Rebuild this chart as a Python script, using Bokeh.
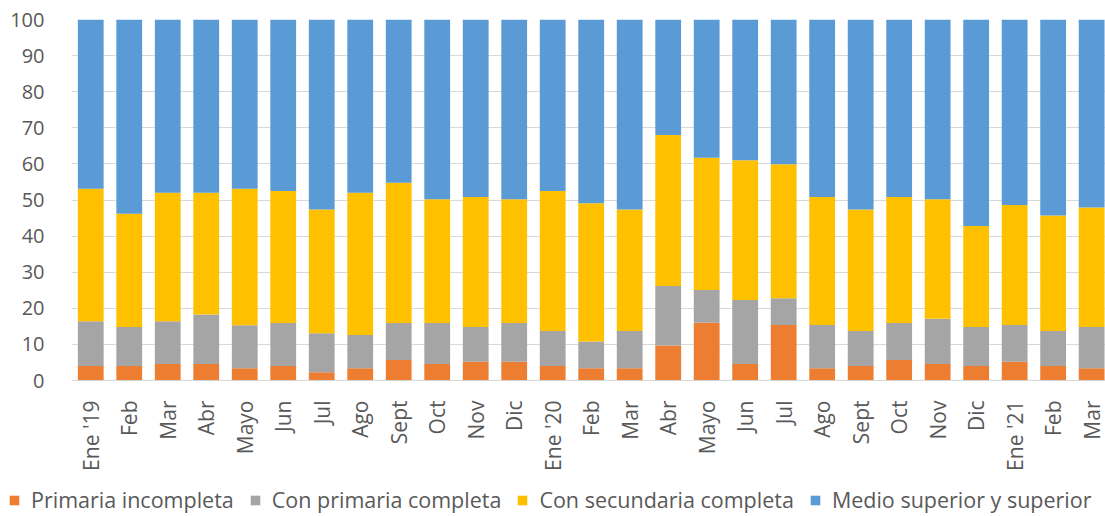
import math
from bokeh.plotting import figure
from bokeh.layouts import column, row
from bokeh.models import Range1d, FixedTicker, Legend, LegendItem, ColumnDataSource
from bokeh.embed import file_html
from bokeh.resources import INLINE

months = ["Ene '19", "Feb", "Mar", "Abr", "Mayo", "Jun", "Jul", "Ago", "Sept", "Oct", "Nov", "Dic",
          "Ene '20", "Feb", "Mar", "Abr", "Mayo", "Jun", "Jul", "Ago", "Sept", "Oct", "Nov", "Dic",
          "Ene '21", "Feb", "Mar"]

primaria_incompleta = [4.0, 4.0, 4.6, 4.6, 3.4, 4.0, 2.3, 3.4, 5.7, 4.6, 5.2, 5.2,
                       4.0, 3.4, 3.4, 9.7, 16.0, 4.6, 15.4, 3.4, 4.0, 5.7, 4.6, 4.0,
                       5.2, 4.0, 3.4]
primaria_completa = [12.4, 10.8, 11.8, 13.7, 11.9, 11.9, 10.8, 9.2, 10.2, 11.3, 9.6, 10.7,
                     9.7, 7.4, 10.3, 16.5, 9.1, 17.7, 7.4, 12.0, 9.7, 10.2, 12.5, 10.8,
                     10.2, 9.7, 11.4]
secundaria_completa = [36.7, 31.4, 35.6, 33.7, 37.8, 36.6, 34.3, 39.4, 38.9, 34.3, 36.0, 34.3,
                       38.8, 38.3, 33.7, 41.8, 36.6, 38.7, 37.1, 35.4, 33.7, 34.9, 33.1, 28.0,
                       33.2, 32.0, 33.1]
medio_superior = [46.9, 53.8, 48.0, 48.0, 46.9, 47.5, 52.6, 48.0, 45.2, 49.8, 49.2, 49.8,
                  47.5, 50.9, 52.6, 32.0, 38.3, 39.0, 40.1, 49.2, 52.6, 49.2, 49.8, 57.2,
                  51.4, 54.3, 52.1]

series_names = ["Primaria incompleta", "Con primaria completa",
                "Con secundaria completa", "Medio superior y superior"]
colors = ["#ED7D31", "#A5A5A5", "#FFC000", "#5B9BD5"]
keys = ["s0", "s1", "s2", "s3"]

src = ColumnDataSource(dict(x=list(range(len(months))),
                            s0=primaria_incompleta, s1=primaria_completa,
                            s2=secundaria_completa, s3=medio_superior))

FONT = "Open Sans"
TXT = "#595959"

p = figure(width=1105, height=480, output_backend="svg", toolbar_location=None,
           x_range=Range1d(-0.5, len(months) - 0.64), y_range=Range1d(0, 100),
           min_border_left=71, min_border_right=0, min_border_top=19, min_border_bottom=100)
p.outline_line_color = None

rs = p.vbar_stack(keys, x="x", width=0.67, source=src, color=colors, line_color=None)

p.xaxis.ticker = FixedTicker(ticks=list(range(len(months))))
p.xaxis.major_label_overrides = {i: m for i, m in enumerate(months)}
p.xaxis.major_label_orientation = math.pi / 2
p.xaxis.major_tick_line_color = None
p.xaxis.minor_tick_line_color = None
p.xaxis.axis_line_color = "#D9D9D9"
p.xaxis.major_label_standoff = 14
p.xaxis.major_label_text_font = FONT
p.xaxis.major_label_text_font_size = "21px"
p.xaxis.major_label_text_color = TXT

p.yaxis.ticker = FixedTicker(ticks=list(range(0, 101, 10)))
p.yaxis.axis_line_color = None
p.yaxis.major_tick_line_color = None
p.yaxis.minor_tick_line_color = None
p.yaxis.major_label_standoff = 21
p.yaxis.major_label_text_font = FONT
p.yaxis.major_label_text_font_size = "20px"
p.yaxis.major_label_text_color = TXT

p.xgrid.grid_line_color = None
p.ygrid.grid_line_color = "#D9D9D9"
p.ygrid.grid_line_width = 1

# legend strip below the chart: same stacked series, drawn out of view, only legend shows
leg = figure(width=1105, height=36, output_backend="svg", toolbar_location=None,
             x_axis_type=None, y_axis_type=None,
             x_range=Range1d(-0.5, len(months) - 0.5), y_range=Range1d(1000, 1001),
             min_border=0, min_border_left=0, min_border_right=0, min_border_top=0,
             min_border_bottom=0)
leg.outline_line_color = None
leg.grid.visible = False
leg_rs = leg.vbar_stack(keys, x="x", width=0.67, source=src, color=colors, line_color=None)

legend = Legend(items=[LegendItem(label=n, renderers=[r]) for n, r in zip(series_names, leg_rs)],
                orientation="horizontal", location=(8, 2),
                glyph_width=12, glyph_height=12, label_standoff=11, spacing=15,
                padding=0, margin=0, border_line_color=None, background_fill_alpha=0,
                label_text_font=FONT, label_text_font_size="21.5px", label_text_color=TXT)
leg.add_layout(legend, "center")

layout = column(p, row(leg), spacing=0)
open("out.html", "w").write(file_html(layout, INLINE))
